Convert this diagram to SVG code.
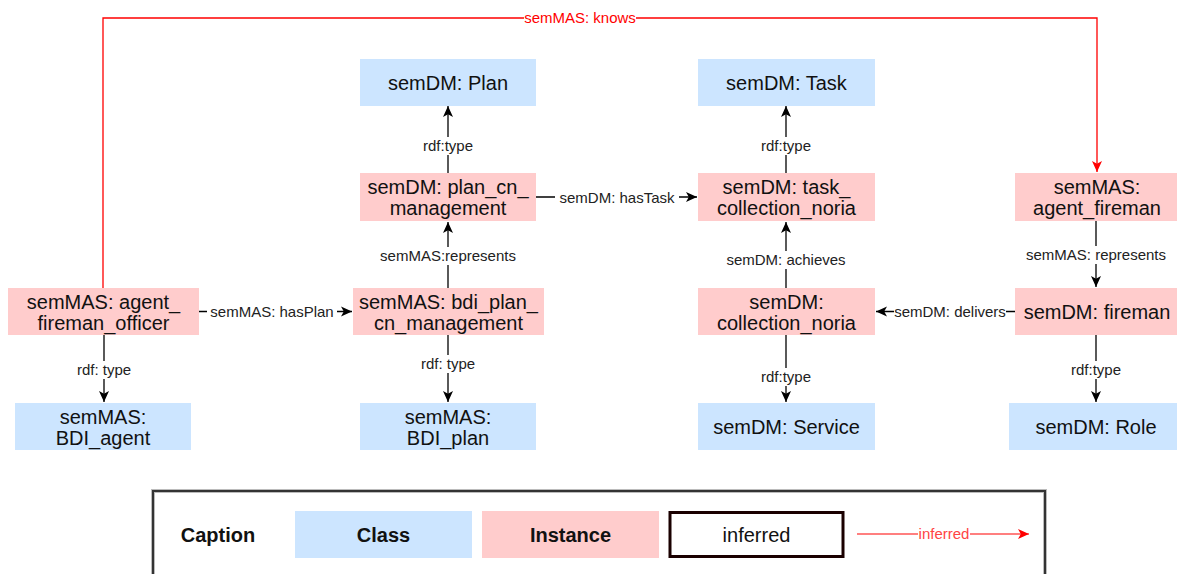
<svg xmlns="http://www.w3.org/2000/svg" width="1177" height="574" viewBox="0 0 1177 574">
<style>
  .cls{fill:#cce5ff;}
  .ins{fill:#ffcccc;}
  .nt{font-family:"Liberation Sans",Arial,Helvetica,sans-serif;font-size:20px;fill:#111;text-anchor:middle;}
  .el{font-family:"Liberation Sans",Arial,Helvetica,sans-serif;font-size:15px;fill:#222;text-anchor:middle;}
  .lbg{fill:#ffffff;}
  .edge{stroke:#000;stroke-width:1.3;fill:none;}
  .red{stroke:#ff0000;stroke-width:1.3;fill:none;}
  .bold{font-weight:bold;}
</style>
<defs>
  <marker id="arr" markerUnits="userSpaceOnUse" markerWidth="13" markerHeight="13" viewBox="0 0 13 13" refX="12" refY="6.5" orient="auto">
    <path d="M1,1.5 L12,6.5 L1,11.5 L3.8,6.5 z" fill="#000"/>
  </marker>
  <marker id="arrRed" markerUnits="userSpaceOnUse" markerWidth="13" markerHeight="13" viewBox="0 0 13 13" refX="12" refY="6.5" orient="auto">
    <path d="M1,1.5 L12,6.5 L1,11.5 L3.8,6.5 z" fill="#ff0000"/>
  </marker>
</defs>
<rect width="1177" height="574" fill="#ffffff"/>

<g id="connectors">
  <path class="edge" d="M448,173 V106" marker-end="url(#arr)"/>
  <path class="edge" d="M786,173 V106" marker-end="url(#arr)"/>
  <path class="edge" d="M536,197 H697" marker-end="url(#arr)"/>
  <path class="edge" d="M448,288 V222" marker-end="url(#arr)"/>
  <path class="edge" d="M786,288 V222" marker-end="url(#arr)"/>
  <path class="edge" d="M199,311.5 H352" marker-end="url(#arr)"/>
  <path class="edge" d="M1015,311.5 H876" marker-end="url(#arr)"/>
  <path class="edge" d="M1096,221 V287" marker-end="url(#arr)"/>
  <path class="edge" d="M104,335 V402" marker-end="url(#arr)"/>
  <path class="edge" d="M448,335 V402" marker-end="url(#arr)"/>
  <path class="edge" d="M786,335 V402" marker-end="url(#arr)"/>
  <path class="edge" d="M1096,335 V402" marker-end="url(#arr)"/>
  <path class="red" d="M103,288 V18 H1097 V172" marker-end="url(#arrRed)"/>

  <rect class="lbg" x="423" y="137" width="50" height="18"/>
  <text class="el" x="448" y="151">rdf:type</text>
  <rect class="lbg" x="761" y="137" width="50" height="18"/>
  <text class="el" x="786" y="151">rdf:type</text>
  <rect class="lbg" x="761" y="368" width="50" height="18"/>
  <text class="el" x="786" y="382">rdf:type</text>
  <rect class="lbg" x="1071" y="361" width="50" height="18"/>
  <text class="el" x="1096" y="375">rdf:type</text>
  <rect class="lbg" x="77" y="361" width="54" height="18"/>
  <text class="el" x="104" y="375">rdf: type</text>
  <rect class="lbg" x="421" y="355" width="54" height="18"/>
  <text class="el" x="448" y="369">rdf: type</text>
  <rect class="lbg" x="374" y="247" width="148" height="18"/>
  <text class="el" x="448" y="261">semMAS:represents</text>
  <rect class="lbg" x="555" y="189" width="124" height="18"/>
  <text class="el" x="617" y="203">semDM: hasTask</text>
  <rect class="lbg" x="207" y="303" width="130" height="18"/>
  <text class="el" x="272" y="317">semMAS: hasPlan</text>
  <rect class="lbg" x="722" y="251" width="128" height="18"/>
  <text class="el" x="786" y="265">semDM: achieves</text>
  <rect class="lbg" x="894" y="303" width="112" height="18"/>
  <text class="el" x="950" y="317">semDM: delivers</text>
  <rect class="lbg" x="1020" y="246" width="153" height="18"/>
  <text class="el" x="1096" y="260">semMAS: represents</text>
  <rect class="lbg" x="524" y="10" width="112" height="17"/>
  <text class="el" x="580" y="23" style="fill:#ff0000">semMAS: knows</text>
</g>

<g id="plan">
  <rect class="cls" x="360" y="59" width="176" height="47"/>
  <text class="nt" x="448" y="89.5">semDM: Plan</text>
</g>
<g id="task">
  <rect class="cls" x="698" y="59" width="177" height="47"/>
  <text class="nt" x="786.5" y="89.5">semDM: Task</text>
</g>
<g id="plan_cn_management">
  <rect class="ins" x="360" y="173" width="176" height="48"/>
  <text class="nt" x="448" y="194">semDM: plan_cn_</text>
  <text class="nt" x="448" y="215">management</text>
</g>
<g id="task_collection_noria">
  <rect class="ins" x="698" y="173" width="177" height="48"/>
  <text class="nt" x="786.5" y="194">semDM: task_</text>
  <text class="nt" x="786.5" y="215">collection_noria</text>
</g>
<g id="agent_fireman">
  <rect class="ins" x="1015" y="173" width="164" height="48"/>
  <text class="nt" x="1097" y="194">semMAS:</text>
  <text class="nt" x="1097" y="215">agent_fireman</text>
</g>
<g id="agent_fireman_officer">
  <rect class="ins" x="8" y="288" width="191" height="47"/>
  <text class="nt" x="103.5" y="309">semMAS: agent_</text>
  <text class="nt" x="103.5" y="330">fireman_officer</text>
</g>
<g id="bdi_plan_cn_management">
  <rect class="ins" x="353" y="288" width="191" height="47"/>
  <text class="nt" x="448.5" y="309">semMAS: bdi_plan_</text>
  <text class="nt" x="448.5" y="330">cn_management</text>
</g>
<g id="collection_noria">
  <rect class="ins" x="698" y="288" width="177" height="47"/>
  <text class="nt" x="786.5" y="309">semDM:</text>
  <text class="nt" x="786.5" y="330">collection_noria</text>
</g>
<g id="fireman">
  <rect class="ins" x="1015" y="288" width="164" height="47"/>
  <text class="nt" x="1097" y="319">semDM: fireman</text>
</g>
<g id="bdi_agent">
  <rect class="cls" x="15" y="403" width="176" height="47"/>
  <text class="nt" x="103" y="424">semMAS:</text>
  <text class="nt" x="103" y="445">BDI_agent</text>
</g>
<g id="bdi_plan">
  <rect class="cls" x="360" y="403" width="176" height="47"/>
  <text class="nt" x="448" y="424">semMAS:</text>
  <text class="nt" x="448" y="445">BDI_plan</text>
</g>
<g id="service">
  <rect class="cls" x="698" y="403" width="177" height="47"/>
  <text class="nt" x="786.5" y="434">semDM: Service</text>
</g>
<g id="role">
  <rect class="cls" x="1009" y="403" width="170" height="47"/>
  <text class="nt" x="1096" y="434">semDM: Role</text>
</g>

<g id="legend">
  <rect x="153" y="491" width="892" height="130" fill="#ffffff" stroke="#bbbbbb" stroke-width="4"/>
  <rect x="153" y="491" width="892" height="130" fill="none" stroke="#333333" stroke-width="2"/>
  <text class="nt bold" x="218" y="542">Caption</text>
  <rect class="cls" x="295" y="511" width="177" height="47"/>
  <text class="nt bold" x="383.5" y="542">Class</text>
  <rect class="ins" x="482" y="511" width="177" height="47"/>
  <text class="nt bold" x="570.5" y="542">Instance</text>
  <rect x="670" y="512.5" width="173" height="44" fill="#ffffff" stroke="#1a0000" stroke-width="3"/>
  <text class="nt" x="756.5" y="542">inferred</text>
  <path d="M857,534 H1029" stroke="#ff5555" stroke-width="1.3" fill="none" marker-end="url(#arrRed)"/>
  <rect x="918" y="527" width="52" height="14" fill="#ffffff"/>
  <text class="el" x="944" y="539" style="fill:#ff4444">inferred</text>
</g>
</svg>
